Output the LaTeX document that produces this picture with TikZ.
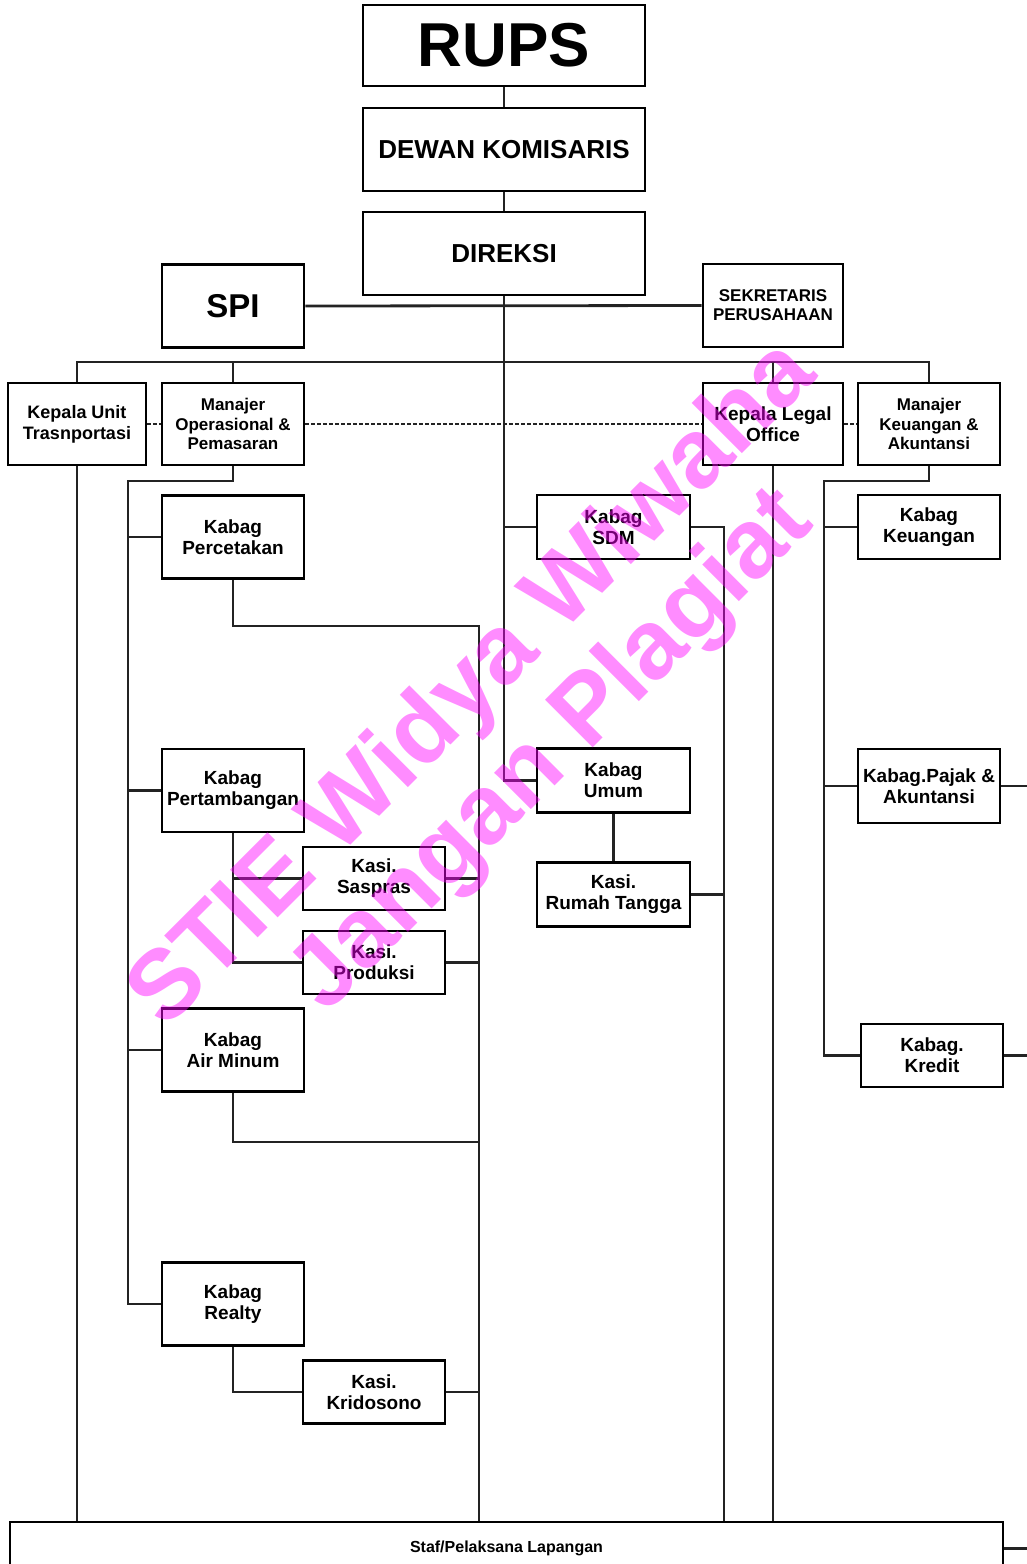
\documentclass[tikz,border=0pt]{standalone}
\usepackage{fontspec}
\setmainfont{Liberation Sans}
\definecolor{wmpink}{RGB}{255,0,255}
\definecolor{garis}{RGB}{35,35,35}
\begin{document}
\begin{tikzpicture}[x=0.5pt, y=-0.5pt,
  box/.style={draw=black, line width=1.35pt, fill=white, inner sep=1pt, align=center,
    minimum width=71pt, minimum height=41.5pt, font=\bfseries\fontsize{9.5}{10.5}\selectfont},
  mgr/.style={box, font=\bfseries\fontsize{8.5}{9.6}\selectfont},
  big/.style={box, minimum width=141pt, font=\bfseries\fontsize{13}{15}\selectfont},
  kasi/.style={box, minimum height=31.5pt},
  mid/.style={box, minimum width=76.5pt, minimum height=32pt},
  con/.style={draw=garis, line width=1.4pt},
  wm/.style={text=wmpink, text opacity=0.45, rotate=45,
    font=\bfseries\fontsize{49}{52}\selectfont}]
\useasboundingbox (0,0) rectangle (1027,1564);
% Pimpinan
\node[big, minimum height=40.5pt, font=\bfseries\fontsize{31}{33}\selectfont] (rups) at (504,45.5) {RUPS};
\node[big] (dewan) at (504,149.5) {DEWAN KOMISARIS};
\node[big] (direksi) at (504,253.5) {DIREKSI};
\node[box, font=\bfseries\fontsize{16.5}{18}\selectfont] (spi) at (233,306) {SPI};
\node[mgr, minimum width=70pt] (sekr) at (773,305.5) {SEKRETARIS\\PERUSAHAAN};
% Manajer
\node[box, minimum width=69pt, minimum height=41pt, font=\bfseries\fontsize{9}{10.5}\selectfont] (kut) at (77,424) {Kepala Unit\\Trasnportasi};
\node[mgr, minimum height=41pt] (mop) at (233,424) {Manajer\\Operasional \&\\Pemasaran};
\node[box, minimum width=70pt, minimum height=41pt] (klo) at (773,424) {Kepala Legal\\Office};
\node[mgr, minimum height=41pt] (mku) at (929,424) {Manajer\\Keuangan \&\\Akuntansi};
% Kabag operasional
\node[box] (cetak) at (233,537) {Kabag\\Percetakan};
\node[box] (tambang) at (233,790.5) {Kabag\\Pertambangan};
\node[kasi] (saspras) at (374,878.5) {Kasi.\\Saspras};
\node[kasi] (produksi) at (374,962.5) {Kasi.\\Produksi};
\node[box] (airminum) at (233,1050) {Kabag\\Air Minum};
\node[box] (realty) at (233,1304) {Kabag\\Realty};
\node[kasi] (krido) at (374,1392) {Kasi.\\Kridosono};
% Kabag tengah
\node[mid] (sdm) at (613.5,527) {Kabag\\SDM};
\node[mid] (umum) at (613.5,780.5) {Kabag\\Umum};
\node[mid] (rumah) at (613.5,894.5) {Kasi.\\Rumah Tangga};
% Kabag keuangan
\node[box, minimum height=32pt] (keu) at (929,527) {Kabag\\Keuangan};
\node[box, minimum height=37pt] (pajak) at (929,786) {Kabag.Pajak \&\\Akuntansi};
\node[kasi] (kredit) at (932,1055.5) {Kabag.\\Kredit};
% Staf
\node[box, minimum width=496.5pt, minimum height=26.5pt, font=\bfseries\fontsize{8}{9}\selectfont] (staf) at (506.5,1548.5) {Staf/Pelaksana Lapangan};
\coordinate (bus) at (504,362);
\coordinate (opbus) at (128,481);
\coordinate (kbus) at (479,626);
\coordinate (amj) at (479,1142);
\coordinate (sbus) at (724,527);
\coordinate (kubus) at (824,481);
\coordinate (edge) at (1027,0);
% Garis
\draw[con] (rups) -- (dewan);
\draw[con] (dewan) -- (direksi);
\draw[con] (spi.east) -- (sekr.west);
\draw[con] (direksi.south) |- (umum.west);
\draw[con] (direksi.south |- sdm.west) -- (sdm.west);
\draw[con] (kut.north) |- (bus) -| (mku.north);
\draw[con] (mop.north) -- (mop.north |- bus);
\draw[con] (klo.north) -- (klo.north |- bus);
\draw[con, dash pattern=on 2pt off 1pt] (kut.east) -- (mop.west) (mop.east) -- (klo.west) (klo.east) -- (mku.west);
\draw[con] (kut.south) -- (kut.south |- staf.north);
\draw[con] (mop.south) |- (opbus) |- (realty.west);
\draw[con] (opbus |- cetak.west) -- (cetak.west);
\draw[con] (opbus |- tambang.west) -- (tambang.west);
\draw[con] (opbus |- airminum.west) -- (airminum.west);
\draw[con] (cetak.south) |- (kbus) -- (kbus |- staf.north);
\draw[con] (tambang.south) |- (produksi.west);
\draw[con] (tambang.south |- saspras.west) -- (saspras.west);
\draw[con] (saspras.east) -- (saspras.east -| kbus);
\draw[con] (produksi.east) -- (produksi.east -| kbus);
\draw[con] (airminum.south) |- (amj);
\draw[con] (realty.south) |- (krido.west);
\draw[con] (krido.east) -- (krido.east -| kbus);
\draw[con] (sdm.east) -- (sbus) -- (sbus |- staf.north);
\draw[con] (umum) -- (rumah);
\draw[con] (rumah.east) -- (rumah.east -| sbus);
\draw[con] (klo.south) -- (klo.south |- staf.north);
\draw[con] (mku.south) |- (kubus) |- (kredit.west);
\draw[con] (kubus |- keu.west) -- (keu.west);
\draw[con] (kubus |- pajak.west) -- (pajak.west);
\draw[con] (pajak.east) -- (pajak.east -| edge);
\draw[con] (kredit.east) -- (kredit.east -| edge);
\draw[con] (staf.east) -- (staf.east -| edge);
% Watermark
\node[wm] (wm1) at (474,686) {STIE Widya Wiwaha};
\node[wm] (wm2) at (553,752) {Jangan Plagiat};
\end{tikzpicture}
\end{document}
